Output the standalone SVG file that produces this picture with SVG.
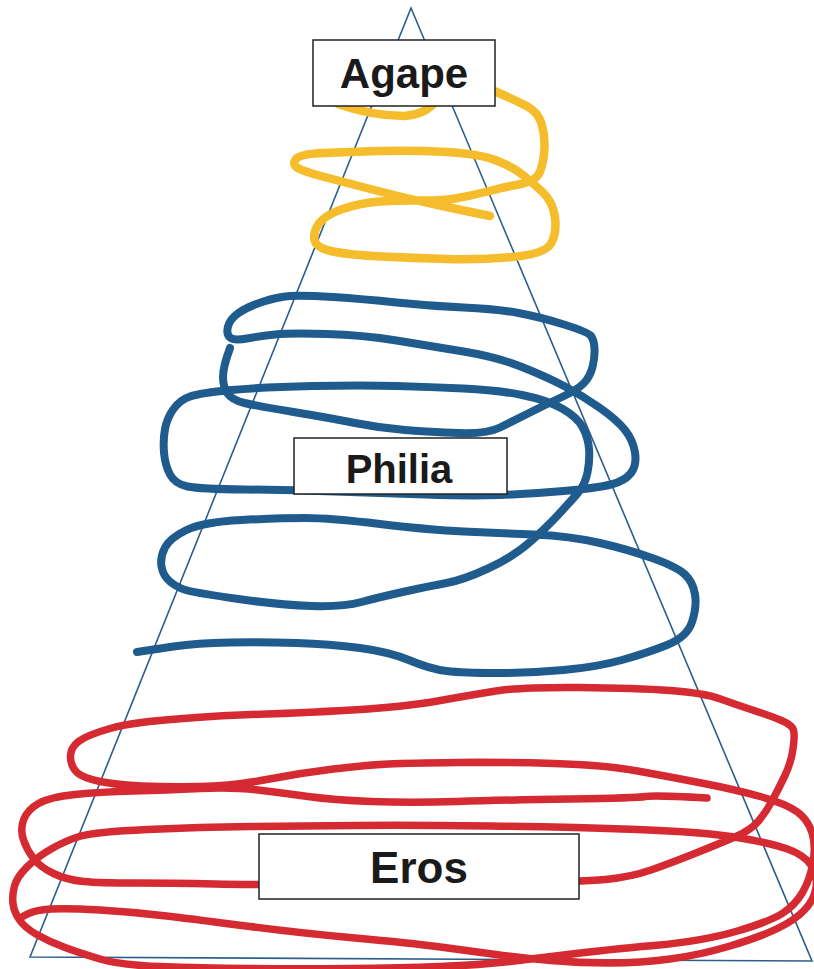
<svg xmlns="http://www.w3.org/2000/svg" width="814" height="969" viewBox="0 0 814 969">
<style>
.tri{fill:none;stroke:#2b5e8e;stroke-width:1.6;stroke-linejoin:miter}
.scr{fill:none;stroke-linecap:round;stroke-linejoin:round}
.yel{stroke:#f5bd2b;stroke-width:8.5}
.blu{stroke:#1f5b8d;stroke-width:8}
.red{stroke:#d52a32;stroke-width:7.5}
.box{fill:#ffffff;stroke:#222222;stroke-width:1.5}
.lbl{font-family:"Liberation Sans",Arial,sans-serif;font-weight:bold;fill:#1a1a1a;text-anchor:middle}
</style>
<rect x="0" y="0" width="814" height="969" fill="#ffffff"/>
<g id="pyramid">
<polygon class="tri" points="411,8 30,957 812,961"/>
</g>
<g id="connectors">
<path id="scribble-agape-a" class="scr yel" d="M338,104 Q372,116 405,116 Q425,114 434,103"/>
<path id="scribble-agape" class="scr yel" d="M492,90 Q515,100 526.5,106 Q538,112 541.5,123.5 Q545,135 544.5,147.5 Q544,160 540.5,170.5 Q537,181 521,184 Q505,187 487.5,191.5 Q470,196 455,198.5 Q440,201 420,200.5 Q400,200 380,201.5 Q360,203 342.5,209 Q325,215 319,223.5 Q313,232 314.5,240 Q316,248 333,251.5 Q350,255 381.5,256.5 Q413,258 446.5,259 Q480,260 512.5,257 Q545,254 551,243.5 Q557,233 555,217.5 Q553,202 543,192.5 Q533,183 523,175 Q513,167 496.5,160.5 Q480,154 446.5,152 Q413,150 380,151 Q347,152 323.5,153 Q300,154 296,159 Q292,164 297,167.5 Q302,171 324.5,177 Q347,183 380,191.5 Q413,200 451.5,208 L490,216"/>
<path id="scribble-philia" class="scr blu" d="M230,348 Q223,367 223,377 Q223,387 227.5,393.5 Q232,400 244.5,403 Q257,406 293.5,412 Q330,418 355,423 Q380,428 405,430 Q430,432 458.5,433 Q487,434 500,427.5 Q513,421 530,412.5 Q547,404 562,397 Q577,390 583.5,383.5 Q590,377 592.5,367 Q595,357 594.5,348.5 Q594,340 591,336 Q588,332 564,324.5 Q540,317 518.5,313 Q497,309 463.5,307.5 Q430,306 396.5,302.5 Q363,299 333,297 Q303,295 290,296 Q277,297 262,302 Q247,307 238.5,313 Q230,319 228,326.5 Q226,334 230,337.5 Q234,341 247,338.5 Q260,336 275,334.5 Q290,333 326.5,334 Q363,335 396.5,340.5 Q430,346 463.5,351.5 Q497,357 522,367 Q547,377 565,386.5 Q583,396 600,408 Q617,420 625,430 Q633,440 635,452.5 Q637,465 631,473 Q625,481 611,484.5 Q597,488 563.5,491 Q530,494 500,495 Q470,496 425,494.5 Q380,493 335,491.5 Q290,490 245,489.5 Q200,489 187.5,486.5 Q175,484 170,474.5 Q165,465 164,452.5 Q163,440 165,429 Q167,418 173.5,409 Q180,400 190,396.5 Q200,393 231.5,390 Q263,387 313,386 Q363,385 396.5,386 Q430,387 463.5,388.5 Q497,390 522,395 Q547,400 562,408.5 Q577,417 582.5,427 Q588,437 589,448.5 Q590,460 587.5,472.5 Q585,485 577.5,493.5 Q570,502 558.5,514.5 Q547,527 530,542 Q513,557 488,568.5 Q463,580 446.5,583 Q430,586 405,591.5 Q380,597 361.5,602 Q343,607 311.5,606 Q280,605 238.5,599 Q197,593 187.5,590.5 Q178,588 170.5,582 Q163,576 161.5,566.5 Q160,557 165,547.5 Q170,538 186.5,530 Q203,522 241.5,520 Q280,518 305,518 Q330,518 380,524 Q430,530 463.5,531.5 Q497,533 533.5,534.5 Q570,536 600,543 Q630,550 653.5,558.5 Q677,567 685,574.5 Q693,582 695,594.5 Q697,607 692,622 Q687,637 667,645 Q647,653 622,660 Q597,667 563.5,670 Q530,673 496.5,673 Q463,673 446.5,671 Q430,669 410,660.5 Q390,652 360,648 Q330,644 296.5,643 Q263,642 230,642.5 Q197,643 173.5,646.5 Q150,650 143.5,651 L137,652"/>
<path id="scribble-eros" class="scr red" d="M707,798 Q654,795 645.5,796.5 Q637,798 570.5,799 Q504,800 457,801.5 Q410,803 371.5,801.5 Q333,800 308,796.5 Q283,793 258,790 Q233,787 200,788.5 Q167,790 133.5,791 Q100,792 75,794.5 Q50,797 38.5,803.5 Q27,810 23.5,820 Q20,830 23.5,840 Q27,850 33.5,858.5 Q40,867 53.5,873.5 Q67,880 83.5,881.5 Q100,883 135,883 Q170,883 215,884 Q260,885 340,884.5 Q420,884 500,883 Q580,882 605.5,879.5 Q631,877 651,870 Q671,863 696,853 Q721,843 736,836.5 Q751,830 758.5,821 Q766,812 772,801 Q778,790 784.5,776.5 Q791,763 793,749 Q795,735 793.5,730 Q792,725 781.5,720.5 Q771,716 754,710.5 Q737,705 720.5,699 Q704,693 670.5,690.5 Q637,688 579,687.5 Q521,687 496,691 Q471,695 437.5,701 Q404,707 352,710 Q300,713 266.5,714 Q233,715 183,718.5 Q133,722 110,728.5 Q87,735 78.5,741.5 Q70,748 70.5,757.5 Q71,767 77,772.5 Q83,778 100,781.5 Q117,785 142,786 Q167,787 200,786.5 Q233,786 266.5,779.5 Q300,773 333.5,769 Q367,765 388.5,764 Q410,763 457,762.5 Q504,762 554,763.5 Q604,765 637.5,771 Q671,777 704,783.5 Q737,790 762,797 Q787,804 797.5,812 Q808,820 812,832.5 Q816,845 813,862.5 Q810,880 802.5,892.5 Q795,905 783,913 Q771,921 737.5,931 Q704,941 654,945.5 Q604,950 572,954 Q540,958 510,961.5 Q480,965 440,966.5 Q400,968 350,968.5 Q300,969 250,968.5 Q200,968 160,966.5 Q120,965 100,959 Q80,953 65,947.5 Q50,942 37.5,935 Q25,928 19.5,920 Q14,912 13,903.5 Q12,895 14.5,886 Q17,877 27,867 Q37,857 52,848.5 Q67,840 81,836 Q95,832 147.5,829.5 Q200,827 250,826.5 Q300,826 355,825.5 Q410,825 490.5,826 Q571,827 637.5,829.5 Q704,832 737.5,837.5 Q771,843 787.5,849 Q804,855 811,865 Q818,875 816,887.5 Q814,900 804.5,910 Q795,920 777.5,928.5 Q760,937 730,946 Q700,955 670,959 Q640,963 610,963 Q580,963 550.5,960.5 Q521,958 496,954.5 Q471,951 440.5,947 Q410,943 355,938 Q300,933 250,926.5 Q200,920 166.5,916 Q133,912 100,910 Q67,908 51,909 Q35,910 27.5,914 L20,918"/>
</g>
<g id="node-agape">
<rect class="box" x="313" y="40" width="182" height="66"/>
<text class="lbl" x="404" y="88" font-size="42">Agape</text>
</g>
<g id="node-philia">
<rect class="box" x="294" y="438" width="213" height="56"/>
<text class="lbl" x="399" y="483" font-size="40">Philia</text>
</g>
<g id="node-eros">
<rect class="box" x="259" y="834" width="320" height="65"/>
<text class="lbl" x="419" y="883" font-size="44">Eros</text>
</g>
</svg>
